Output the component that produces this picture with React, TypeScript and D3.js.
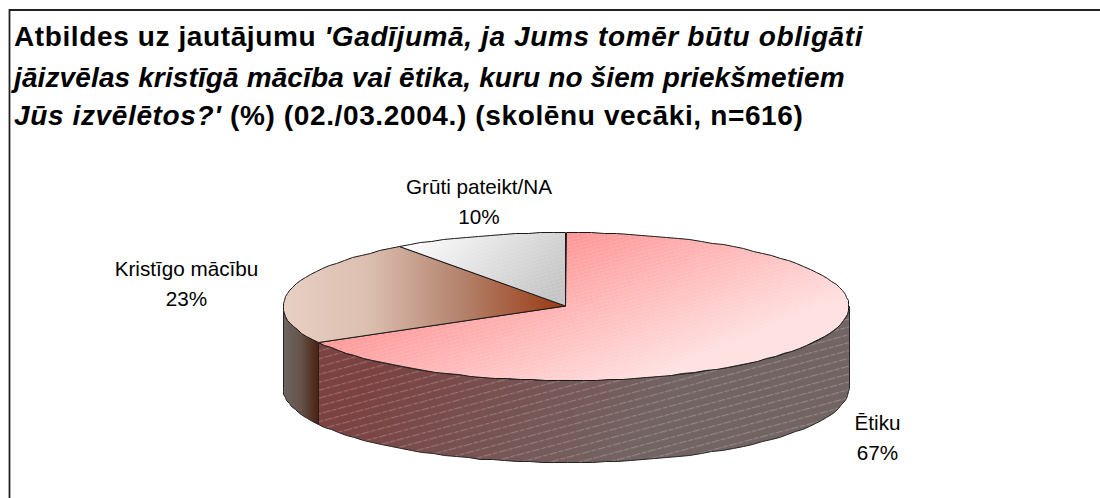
import React from "react";
import * as d3 from "d3";

const categories = ["Ētiku", "Kristīgo mācību", "Grūti pateikt/NA"];
const values = [67, 23, 10];
const titleLines = [
  [["Atbildes uz jautājumu ", false], ["'Gadījumā, ja Jums tomēr būtu obligāti", true]],
  [["jāizvēlas kristīgā mācība vai ētika, kuru no šiem priekšmetiem", true]],
  [["Jūs izvēlētos?'", true], [" (%) (02./03.2004.) (skolēnu vecāki, n=616)", false]],
] as [string, boolean][][];
const titleSpacing = [0.61, 0.12, 0.63];
const titleBaselines = [46, 86.5, 125];

const W = 1100, H = 498;
const cx = 565.5, cy = 306, rx = 283, ry = 74, depth = 82;
const FONT = "'Liberation Sans', Arial, sans-serif";

const arcs = d3.pie<number>().sort(null).startAngle(0).endAngle(2 * Math.PI)(values);
const xs = d3.scaleLinear().domain([-1, 1]).range([cx - rx, cx + rx]);
const ys = d3.scaleLinear().domain([-1, 1]).range([cy - ry, cy + ry]);

const rim = (a: number, dy = 0): [number, number] => [
  Math.round(xs(Math.sin(a))) + 0.5,
  Math.round(ys(-Math.cos(a)) + dy) + 0.5,
];
const line = d3.line();
const sweep = (a0: number, a1: number) => {
  const n = Math.max(2, Math.ceil(Math.abs(a1 - a0) / (2.6 * Math.PI / 180)));
  return d3.range(n + 1).map((i) => a0 + ((a1 - a0) * i) / n);
};
const topPath = (a0: number, a1: number) =>
  line([[cx, cy], ...sweep(a0, a1).map((a) => rim(a))])! + "Z";
const wallPath = (a0: number, a1: number) =>
  line([...sweep(a0, a1).map((a) => rim(a)), ...sweep(a1, a0).map((a) => rim(a, depth))])! + "Z";

const topFills = ["url(#topA)", "url(#topB)", "url(#topC)"];
const wallFills = ["url(#wallA)", "url(#wallB)", "none"];
const hatches = ["url(#hatchTop)", null, "url(#hatchGrey)"];
const labelPos = [
  { x: 877.5, y: 430 },
  { x: 186.5, y: 276 },
  { x: 479, y: 194 },
];

export default function App() {
  const visibleFrom = Math.PI / 2, visibleTo = 1.5 * Math.PI;
  return (
    <svg width={W} height={H} style={{ position: "absolute", left: 0, top: 0, background: "#fff" }}>
      <defs>
        <linearGradient id="topA" gradientUnits="userSpaceOnUse" x1={540} y1={225} x2={610} y2={395}>
          <stop offset="0" stopColor="#ff8c8c" />
          <stop offset="1" stopColor="#ffe0e0" />
        </linearGradient>
        <linearGradient id="topB" gradientUnits="userSpaceOnUse" x1={283} y1={0} x2={565} y2={0}>
          <stop offset="0" stopColor="#e8d0c4" />
          <stop offset="0.3" stopColor="#dcbfb0" />
          <stop offset="0.62" stopColor="#b58570" />
          <stop offset="1" stopColor="#993810" />
        </linearGradient>
        <linearGradient id="topC" gradientUnits="userSpaceOnUse" x1={430} y1={225} x2={530} y2={320}>
          <stop offset="0" stopColor="#fbfbfb" />
          <stop offset="1" stopColor="#c4c4c4" />
        </linearGradient>
        <linearGradient id="wallA" gradientUnits="userSpaceOnUse" x1={420} y1={320} x2={620} y2={470}>
          <stop offset="0" stopColor="#7c4242" />
          <stop offset="1" stopColor="#736464" />
        </linearGradient>
        <linearGradient id="wallB" gradientUnits="userSpaceOnUse" x1={283} y1={0} x2={321} y2={0}>
          <stop offset="0" stopColor="#6c6662" />
          <stop offset="0.45" stopColor="#65544c" />
          <stop offset="1" stopColor="#481a08" />
        </linearGradient>
        <pattern id="hatchWall" patternUnits="userSpaceOnUse" width={16} height={7.6} patternTransform="rotate(-15)">
          <line x1={0} x2={16} y1={3.5} y2={3.5} stroke="#fff" strokeOpacity={0.32} strokeWidth={0.8} strokeDasharray="5 1.5" />
        </pattern>
        <pattern id="hatchTop" patternUnits="userSpaceOnUse" width={10} height={3.4} patternTransform="rotate(-15)">
          <line x1={0} x2={10} y1={1.7} y2={1.7} stroke="#fff" strokeOpacity={0.2} strokeWidth={0.9} strokeDasharray="4 1" />
        </pattern>
        <pattern id="hatchGrey" patternUnits="userSpaceOnUse" width={10} height={3.4} patternTransform="rotate(-15)">
          <line x1={0} x2={10} y1={1.7} y2={1.7} stroke="#fff" strokeOpacity={0.2} strokeWidth={0.9} strokeDasharray="4 1" />
        </pattern>
      </defs>

      <path d={`M${W},10H9.5V${H}`} fill="none" stroke="#222" strokeWidth={1.8} />

      <text fontFamily={FONT} fontSize={28} fontWeight={700} fill="#000">
        {titleLines.map((segs, i) => (
          <tspan key={i} x={14} y={titleBaselines[i]} letterSpacing={titleSpacing[i]}>
            {segs.map(([t, it], j) => (
              <tspan key={j} fontStyle={it ? "italic" : "normal"} xmlSpace="preserve">{t}</tspan>
            ))}
          </tspan>
        ))}
      </text>

      {arcs.map((d, i) => {
        const a0 = Math.max(d.startAngle, visibleFrom), a1 = Math.min(d.endAngle, visibleTo);
        if (a1 <= a0) return null;
        return (
          <g key={i}>
            <path d={wallPath(a0, a1)} fill={wallFills[i]} stroke="none" />
            {i === 0 && <path d={wallPath(a0, a1)} fill="url(#hatchWall)" stroke="none" />}
            <path d={wallPath(a0, a1)} fill="none" stroke="#222" strokeWidth={1} />
          </g>
        );
      })}

      {arcs.map((d, i) => (
        <g key={i}>
          <path d={topPath(d.startAngle, d.endAngle)} fill={topFills[i]} />
          {hatches[i] && <path d={topPath(d.startAngle, d.endAngle)} fill={hatches[i]!} />}
          <path d={topPath(d.startAngle, d.endAngle)} fill="none" stroke="#1a1a1a" strokeWidth={1} />
        </g>
      ))}

      {arcs.map((d, i) => (
        <text key={i} fontFamily={FONT} fontSize={20.7} fill="#000" textAnchor="middle">
          <tspan x={labelPos[i].x} y={labelPos[i].y}>{categories[i]}</tspan>
          <tspan x={labelPos[i].x} y={labelPos[i].y + 30}>{values[i]}%</tspan>
        </text>
      ))}
    </svg>
  );
}
